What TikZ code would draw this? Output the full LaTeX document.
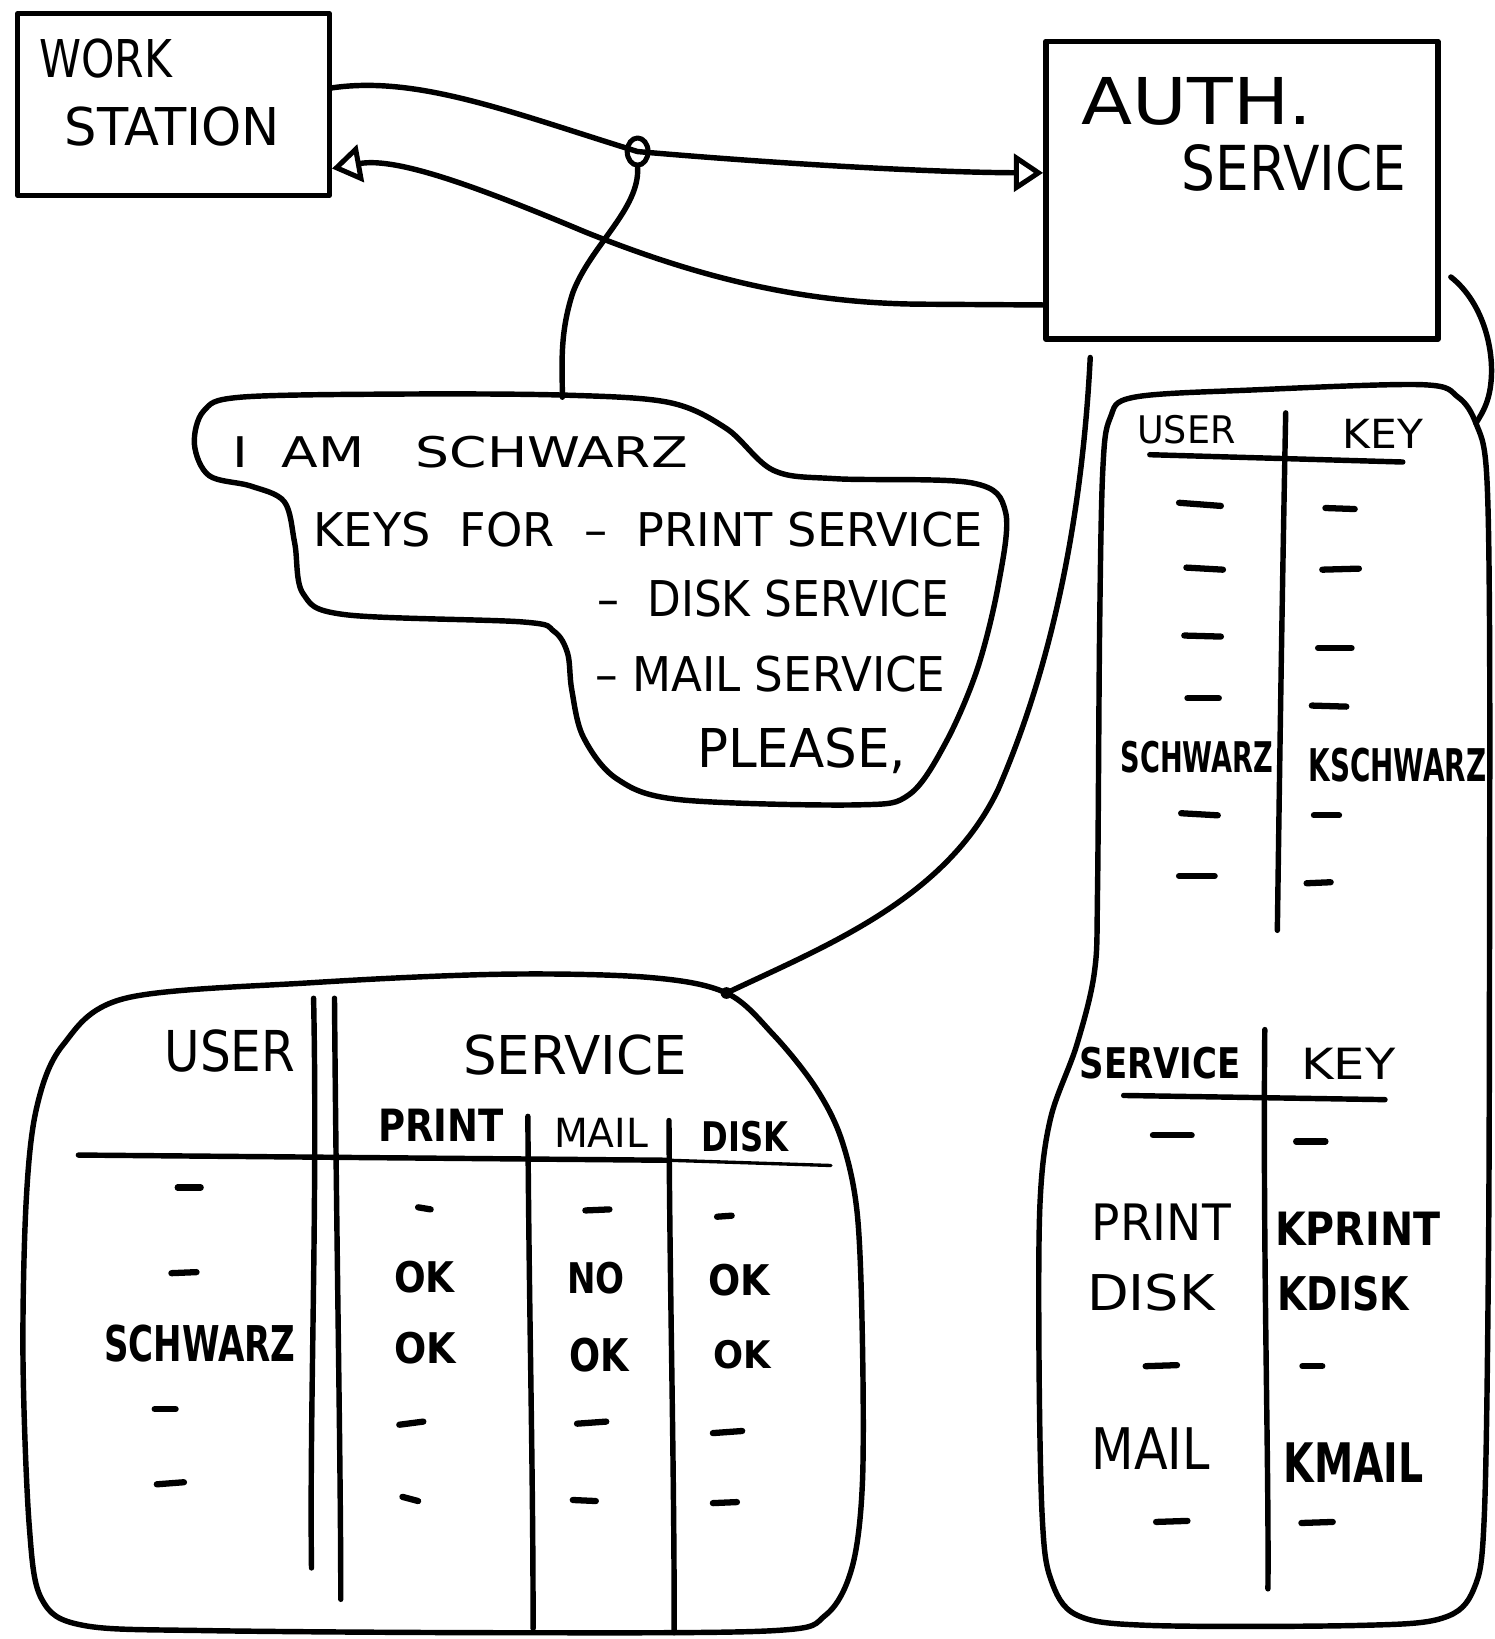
\documentclass[tikz,border=0pt]{standalone}
\usepackage{fontspec}
\setmainfont{DejaVu Sans}
\usepackage{graphicx}
\usetikzlibrary{arrows.meta,shapes.geometric,calc}
\newlength\hwunit \setlength\hwunit{0.5pt}
\newcommand\hw[3]{\resizebox{#1\hwunit}{#2\hwunit}{#3}}
\newcommand\hb[3]{\resizebox{#1\hwunit}{#2\hwunit}{\bfseries #3}}
\begin{document}
\begin{tikzpicture}[x=0.5pt,y={(0pt,-0.5pt)},line cap=round,line join=round,
  pen/.style={line width=2.6pt},
  dashmark/.style={line width=3pt},
  txt/.style={inner sep=0pt,outer sep=0pt},
  box/.style={draw,line width=2.6pt,inner sep=0pt},
  tip/.style={-{Triangle[open,length=14pt,width=18pt,line width=2.4pt]}}]
\useasboundingbox (0,0) rectangle (1430,1568);

% boxes
\node[box,minimum width=149pt,minimum height=87pt] (ws) at (166,100) {};
\node[box,minimum width=187.5pt,minimum height=142.5pt] (auth) at (1188,182) {};
\node[txt] (wsl1) at (101,56) {\hw{127}{37}{WORK}};
\node[txt] (wsl2) at (165,121) {\hw{206}{37}{STATION}};
\node[txt] (al1) at (1145,97) {\hw{220}{45}{AUTH.}};
\node[txt] (al2) at (1238,161) {\hw{215}{44}{SERVICE}};

% knot on request line
\node[draw,ellipse,line width=2.4pt,minimum width=10pt,minimum height=13pt,inner sep=0pt] (knot) at (610,145) {};

% coordinates
\coordinate (b1top) at (538,380);
\coordinate (ab) at (1043,342);
\coordinate (j3) at (695,950);
\coordinate (ar) at (1388,265);
\coordinate (j2) at (1412,405);

% connectors
\draw[pen,tip] (ws.6) .. controls (400,72) and (490,108) .. (knot.center)
   .. controls (760,158) and (900,165) .. (auth.175);
\draw[pen,tip] (auth.210) -- (880,291) .. controls (760,290) and (660,262) .. (560,222)
   .. controls (460,180) and (380,150) .. (ws.-22);
\draw[pen] (knot.south) .. controls (612,200) and (565,235) .. (548,280)
   .. controls (535,320) and (538,350) .. (b1top);
\draw[pen] (ab) .. controls (1035,500) and (1005,640) .. (955,755)
   .. controls (905,860) and (790,905) .. (j3);
\draw[pen] (ar) .. controls (1420,290) and (1432,340) .. (1425,375)
   .. controls (1422,390) and (1416,398) .. (j2);
\fill (j3) circle (2.8pt);

% bubble 1 (request)
\draw[pen] plot[smooth cycle,tension=0.55] coordinates {
 (230,380) (380,377) (540,378) (640,385) (695,410) (740,450) (800,458) (930,462)
 (962,490) (955,560) (935,640) (905,710) (870,760) (820,770) (650,765) (590,745)
 (558,705) (547,660) (543,625) (530,604) (500,595) (330,588) (290,568) (282,520) (272,480)
 (240,465) (200,455) (186,425) (195,393)};
\node[txt] (r1) at (440,433) {\hw{436}{30}{I\ \ AM\ \ \ SCHWARZ}};
\node[txt] (r2) at (620,507) {\hw{640}{33}{KEYS\ \ FOR\ \ –\ \ PRINT SERVICE}};
\node[txt] (r3) at (740,573) {\hw{336}{35}{–\ \ DISK SERVICE}};
\node[txt] (r4) at (737,645) {\hw{335}{34}{–\ MAIL SERVICE}};
\node[txt] (r5) at (767,718) {\hw{200}{38}{PLEASE,}};

% bubble 2 (right)
\draw[pen] plot[smooth cycle,tension=0.55] coordinates {
 (1085,380) (1200,373) (1360,368) (1395,380) (1412,405) (1422,450) (1425,600)
 (1425,900) (1424,1200) (1420,1450) (1410,1520) (1380,1548) (1300,1555) (1100,1555)
 (1030,1545) (1005,1510) (997,1450) (994,1300) (995,1150) (1005,1070) (1030,1000)
 (1047,930) (1050,850) (1052,600) (1055,450) (1062,400)};
% top table
\draw[pen] (1230,395) .. controls (1226,600) and (1224,750) .. (1222,890);
\draw[pen] (1100,435) -- (1342,442);
\node[txt] (u1) at (1135,411) {\hw{94}{27}{USER}};
\node[txt] (k1) at (1323,415) {\hw{77}{28}{KEY}};
\node[txt] (s1) at (1145,724) {\hb{146}{30}{SCHWARZ}};
\node[txt] (ks1) at (1337,732) {\hb{170}{32}{KSCHWARZ}};
\foreach \a/\b/\c/\d in {1128/481/1168/484,1135/543/1170/545,1133/608/1168/609,
  1136/668/1166/668,1130/778/1165/780,1128/838/1162/838,
  1268/486/1296/487,1265/545/1300/544,1261/620/1293/620,1255/675/1288/676,
  1257/780/1281/780,1250/845/1273/844}
  \draw[dashmark] (\a,\b) -- (\c,\d);
% bottom table
\draw[pen] (1210,985) .. controls (1208,1200) and (1214,1400) .. (1213,1520);
\draw[pen] (1075,1048) -- (1325,1052);
\node[txt] (sv2) at (1110,1017) {\hb{154}{30}{SERVICE}};
\node[txt] (k2) at (1290,1018) {\hw{90}{30}{KEY}};
\node[txt] (p2) at (1111,1169) {\hw{133}{35}{PRINT}};
\node[txt] (kp2) at (1299,1176) {\hb{158}{32}{KPRINT}};
\node[txt] (d2) at (1101,1237) {\hw{122}{35}{DISK}};
\node[txt] (kd2) at (1285,1238) {\hb{126}{33}{KDISK}};
\node[txt] (m2) at (1101,1386) {\hw{113}{40}{MAIL}};
\node[txt] (km2) at (1295,1399) {\hb{134}{38}{KMAIL}};
\foreach \a/\b/\c/\d in {1103/1086/1140/1086,1240/1092/1268/1092,1096/1307/1126/1306,
  1246/1307/1265/1307,1106/1456/1136/1455,1245/1457/1275/1456}
  \draw[dashmark] (\a,\b) -- (\c,\d);

% bubble 3 (bottom left)
\draw[pen] plot[smooth cycle,tension=0.55] coordinates {
 (120,955) (300,940) (480,932) (620,935) (695,950) (740,990) (780,1040) (805,1090)
 (820,1160) (825,1280) (825,1420) (815,1500) (790,1545) (740,1560) (500,1562) (200,1560)
 (80,1555) (40,1530) (28,1460) (22,1300) (25,1150) (35,1060) (60,1000)};
\draw[pen] (300,955) .. controls (304,1150) and (296,1350) .. (298,1500);
\draw[pen] (320,955) .. controls (322,1200) and (326,1400) .. (326,1530);
\draw[pen] (75,1105) -- (640,1110);
\draw[line width=1.6pt] (640,1110) -- (795,1115);
\draw[pen] (505,1068) .. controls (506,1250) and (510,1400) .. (510,1558);
\draw[pen] (640,1072) .. controls (641,1250) and (645,1400) .. (645,1562);
\node[txt] (u3) at (220,1005) {\hw{125}{40}{USER}};
\node[txt] (sv3) at (550,1009) {\hw{214}{38}{SERVICE}};
\node[txt] (p3) at (422,1077) {\hb{120}{31}{PRINT}};
\node[txt] (m3) at (575,1084) {\hw{90}{28}{MAIL}};
\node[txt] (d3) at (713,1087) {\hb{83}{29}{DISK}};
\node[txt] (s3) at (191,1285) {\hb{183}{35}{SCHWARZ}};
\node[txt] (o1) at (406,1222) {\hb{58}{30}{OK}};
\node[txt] (o2) at (570,1223) {\hb{55}{30}{NO}};
\node[txt] (o3) at (707,1225) {\hb{59}{30}{OK}};
\node[txt] (o4) at (407,1290) {\hb{59}{30}{OK}};
\node[txt] (o5) at (573,1296) {\hb{57}{32}{OK}};
\node[txt] (o6) at (710,1296) {\hb{55}{27}{OK}};
\foreach \a/\b/\c/\d in {170/1136/192/1136,164/1218/188/1217,148/1348/168/1348,
  150/1420/176/1418,400/1155/412/1157,382/1363/405/1360,385/1432/400/1436,
  560/1158/583/1157,552/1362/580/1360,548/1435/570/1436,
  686/1164/700/1163,682/1371/710/1369,682/1438/705/1437}
  \draw[dashmark] (\a,\b) -- (\c,\d);
\end{tikzpicture}
\end{document}
